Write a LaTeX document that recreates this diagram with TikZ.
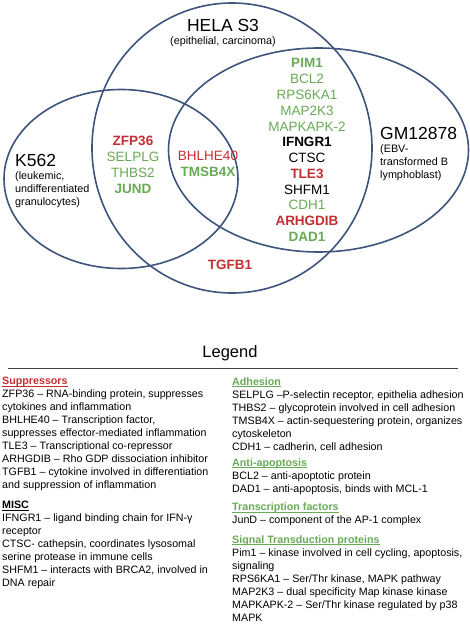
\documentclass[tikz,border=0pt]{standalone}
\usepackage{fontspec}
\setmainfont{Liberation Sans}
\usepackage{tikz}
\definecolor{vennblue}{RGB}{62,84,125}
\definecolor{supred}{RGB}{196,45,50}
\definecolor{adhgreen}{RGB}{104,170,86}
\newcommand{\leghead}[2]{\textcolor{#1}{\bfseries\setbox0\hbox{#2}\rlap{\rule[-1.7pt]{\wd0}{0.7pt}}\box0}}

\begin{document}
\begin{tikzpicture}[x=1pt,y=-1pt]
		\tikzset{set/.style = {draw=vennblue,line width=1.6pt},
			gene/.style = {font=\fontsize{13.5}{16}\selectfont,inner sep=0pt},
			grn/.style = {text=adhgreen},
			grnb/.style = {text=adhgreen,font=\fontsize{13.5}{16}\selectfont\bfseries},
			redn/.style = {text=supred},
			redb/.style = {text=supred,font=\fontsize{13.5}{16}\selectfont\bfseries},
			blk/.style = {text=black},
			blkb/.style = {text=black,font=\fontsize{13.5}{16}\selectfont\bfseries},
			cell/.style = {font=\fontsize{17.5}{20}\selectfont,inner sep=0pt},
			sub/.style = {font=\fontsize{10.8}{13}\selectfont,inner sep=0pt,align=left},
			legtext/.style = {font=\fontsize{10.7}{13}\selectfont,inner sep=0pt,align=left,anchor=west}}
		\useasboundingbox (0,0) rectangle (469,624);
		\draw[set] (232,148) ellipse [x radius=140,y radius=145];
		\draw[set] (121,179) ellipse [x radius=117,y radius=89.5];
		\draw[set] (318.5,150) ellipse [x radius=150,y radius=102];
		\node[cell] (hela) at (223,25) {HELA S3};
		\node[sub] (helasub) at (223,42) {(epithelial, carcinoma)};
		\node[cell,anchor=west] (k562) at (15,160) {K562};
		\node[sub,anchor=west] (k562sub) at (15,190) {(leukemic,\\undifferentiated\\granulocytes)};
		\node[cell,anchor=west] (gm) at (380,133) {GM12878};
		\node[sub,anchor=west] (gmsub) at (380,163) {(EBV-\\transformed B\\lymphoblast)};
		\foreach \gname/\gstyle [count=\i from 0] in {PIM1/grnb,BCL2/grn,RPS6KA1/grn,MAP2K3/grn,MAPKAPK-2/grn,IFNGR1/blkb,CTSC/blk,TLE3/redb,SHFM1/blk,CDH1/grn,ARHGDIB/redb,DAD1/grnb}
			\node[gene,\gstyle] (gm\i) at (307,63.3+15.76*\i) {\gname};
		\foreach \gname/\gstyle [count=\i from 0] in {ZFP36/redb,SELPLG/grn,THBS2/grn,JUND/grnb}
			\node[gene,\gstyle] (kh\i) at (133,141+16*\i) {\gname};
		\node[gene,redn] (bhlhe) at (208,156) {BHLHE40};
		\node[gene,grnb] (tmsb) at (208,172) {TMSB4X};
		\node[gene,redb] (tgfb) at (230,265) {TGFB1};
		\node[font=\fontsize{16.5}{19}\selectfont,inner sep=0pt] (legend) at (230,353) {Legend};
		\draw[line width=0.8pt,black!75] (8,368) -- (458,368);
		\node[legtext] (supp) at (2,434) {\leghead{supred}{Suppressors}\\
			ZFP36 – RNA-binding protein, suppresses\\
			cytokines and inflammation\\
			BHLHE40 – Transcription factor,\\
			suppresses effector-mediated inflammation\\
			TLE3 – Transcriptional co-repressor\\
			ARHGDIB – Rho GDP dissociation inhibitor\\
			TGFB1 – cytokine involved in differentiation\\
			and suppression of inflammation};
		\node[legtext] (misc) at (2,545) {\leghead{black}{MISC}\\
			IFNGR1 – ligand binding chain for IFN-γ\\
			receptor\\
			CTSC- cathepsin, coordinates lysosomal\\
			serine protease in immune cells\\
			SHFM1 – interacts with BRCA2, involved in\\
			DNA repair};
		\node[legtext] (adh) at (232,414.5) {\leghead{adhgreen}{Adhesion}\\
			SELPLG –P-selectin receptor, epithelia adhesion\\
			THBS2 – glycoprotein involved in cell adhesion\\
			TMSB4X – actin-sequestering protein, organizes\\
			cytoskeleton\\
			CDH1 – cadherin, cell adhesion};
		\node[legtext] (apop) at (232,476.5) {\leghead{adhgreen}{Anti-apoptosis}\\
			BCL2 – anti-apoptotic protein\\
			DAD1 – anti-apoptosis, binds with MCL-1};
		\node[legtext] (trans) at (232,514.5) {\leghead{adhgreen}{Transcription factors}\\
			JunD – component of the AP-1 complex};
		\node[legtext] (signal) at (232,578.5) {\leghead{adhgreen}{Signal Transduction proteins}\\
			Pim1 – kinase involved in cell cycling, apoptosis,\\
			signaling\\
			RPS6KA1 – Ser/Thr kinase, MAPK pathway\\
			MAP2K3 – dual specificity Map kinase kinase\\
			MAPKAPK-2 – Ser/Thr kinase regulated by p38\\
			MAPK};
	\end{tikzpicture}
\end{document}
